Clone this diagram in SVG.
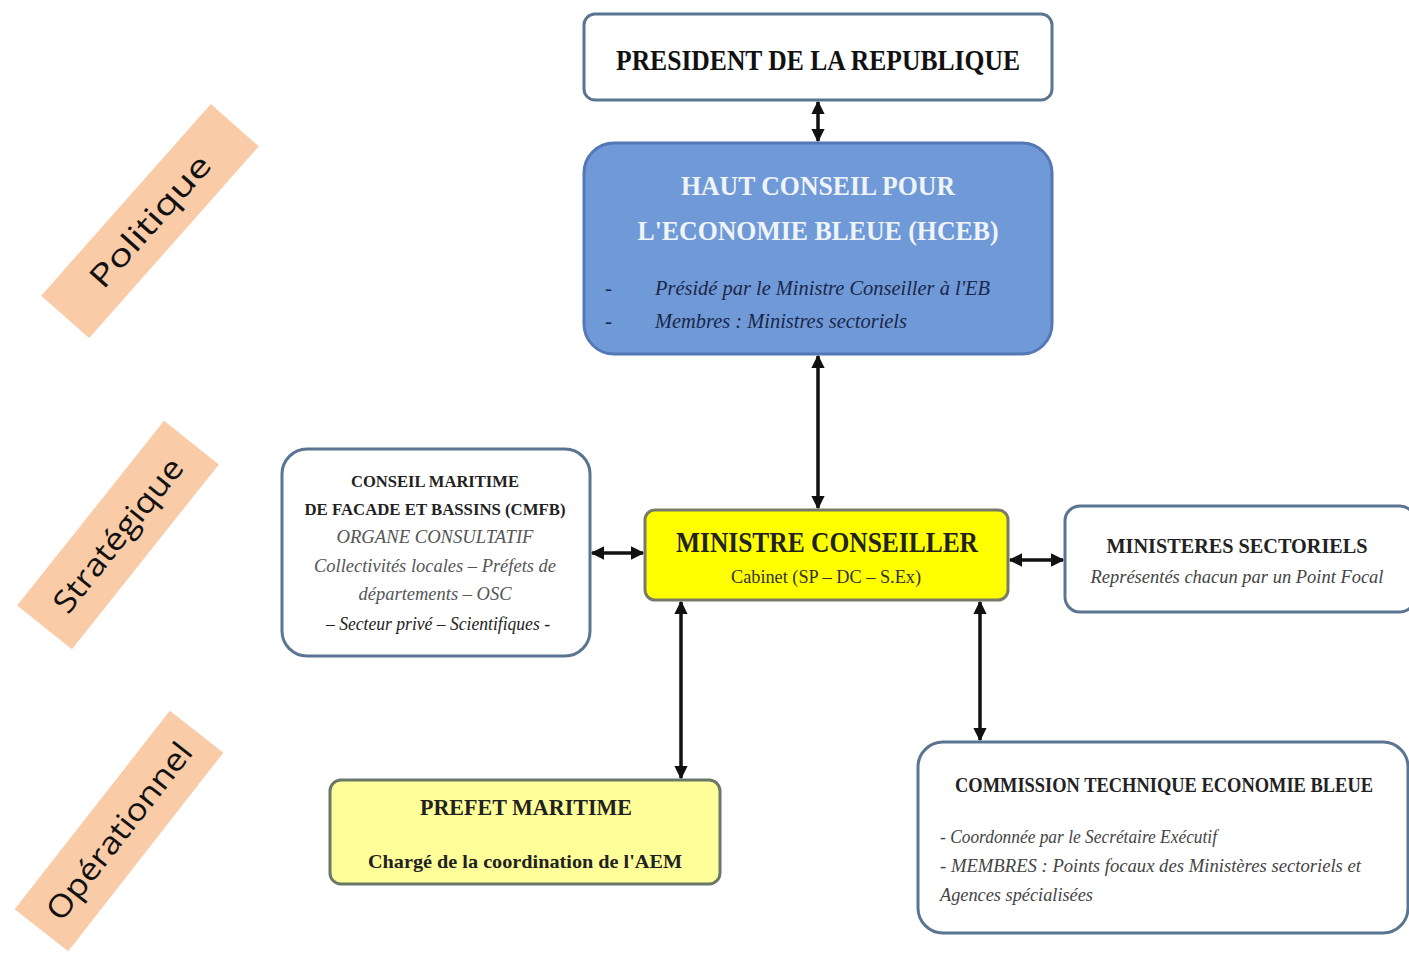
<svg xmlns="http://www.w3.org/2000/svg" width="1409" height="955" viewBox="0 0 1409 955">
<style>
.box{fill:#ffffff;stroke:#5a7590;stroke-width:3}
.serif{font-family:"Liberation Serif","Times New Roman",serif}
.b{font-weight:bold}
.i{font-style:italic}
.lbl{fill:#f9cba7}
.lt{font-family:"Open Sans","Noto Sans",sans-serif;font-size:31px;fill:#111}
.con{stroke:#111;stroke-width:3.5;fill:none}
</style>
<defs>
<marker id="ah" viewBox="0 0 10 10" refX="9" refY="5" markerWidth="3.8" markerHeight="3.8" orient="auto-start-reverse" markerUnits="strokeWidth">
<path d="M0,0 L10,5 L0,10 z" fill="#111"/>
</marker>
</defs>
<rect width="1409" height="955" fill="#ffffff"/>

<g id="label-politique" transform="translate(150,221) rotate(-48.5)">
<rect class="lbl" x="-128" y="-32" width="256" height="64"/>
<text class="lt" x="0" y="11" text-anchor="middle" textLength="166" lengthAdjust="spacingAndGlyphs">Politique</text>
</g>
<g id="label-strategique" transform="translate(118,535) rotate(-51.5)">
<rect class="lbl" x="-118" y="-35" width="236" height="70"/>
<text class="lt" x="0" y="11" text-anchor="middle" textLength="188" lengthAdjust="spacingAndGlyphs">Stratégique</text>
</g>
<g id="label-operationnel" transform="translate(119,831) rotate(-52)">
<rect class="lbl" x="-126" y="-34" width="252" height="68"/>
<text class="lt" x="0" y="11" text-anchor="middle" textLength="216" lengthAdjust="spacingAndGlyphs">Opérationnel</text>
</g>

<g id="connectors">
<line class="con" x1="818" y1="102" x2="818" y2="141" marker-start="url(#ah)" marker-end="url(#ah)"/>
<line class="con" x1="818" y1="356" x2="818" y2="508" marker-start="url(#ah)" marker-end="url(#ah)"/>
<line class="con" x1="592" y1="553" x2="643" y2="553" marker-start="url(#ah)" marker-end="url(#ah)"/>
<line class="con" x1="1010" y1="560" x2="1063" y2="560" marker-start="url(#ah)" marker-end="url(#ah)"/>
<line class="con" x1="681" y1="602" x2="681" y2="778" marker-start="url(#ah)" marker-end="url(#ah)"/>
<line class="con" x1="980" y1="602" x2="980" y2="740" marker-start="url(#ah)" marker-end="url(#ah)"/>
</g>

<g id="president">
<rect class="box" x="584" y="14" width="468" height="86" rx="11"/>
<text class="serif b" x="818" y="70" font-size="29" text-anchor="middle" fill="#111" textLength="404" lengthAdjust="spacingAndGlyphs">PRESIDENT DE LA REPUBLIQUE</text>
</g>

<g id="hceb">
<rect x="584" y="143" width="468" height="211" rx="30" fill="#7099d8" stroke="#5478b5" stroke-width="3"/>
<text class="serif b" x="818" y="195" font-size="27" text-anchor="middle" fill="#eef4f8" textLength="274" lengthAdjust="spacingAndGlyphs">HAUT CONSEIL POUR</text>
<text class="serif b" x="818" y="240" font-size="27" text-anchor="middle" fill="#eef4f8" textLength="361" lengthAdjust="spacingAndGlyphs">L'ECONOMIE BLEUE (HCEB)</text>
<text class="serif" x="605" y="295" font-size="21" fill="#1a2748">-</text>
<text class="serif i" x="655" y="295" font-size="21" fill="#1a2748" textLength="335" lengthAdjust="spacingAndGlyphs">Présidé par le Ministre Conseiller à l'EB</text>
<text class="serif" x="605" y="328" font-size="21" fill="#1a2748">-</text>
<text class="serif i" x="655" y="328" font-size="21" fill="#1a2748" textLength="252" lengthAdjust="spacingAndGlyphs">Membres : Ministres sectoriels</text>
</g>

<g id="ministre">
<rect x="645" y="510" width="363" height="90" rx="10" fill="#ffff00" stroke="#7a7a6a" stroke-width="3"/>
<text class="serif b" x="827" y="552" font-size="29" text-anchor="middle" fill="#222" textLength="302" lengthAdjust="spacingAndGlyphs">MINISTRE  CONSEILLER</text>
<text class="serif" x="826" y="583" font-size="18" text-anchor="middle" fill="#333" textLength="190" lengthAdjust="spacingAndGlyphs">Cabinet (SP – DC – S.Ex)</text>
</g>

<g id="cmfb">
<rect class="box" x="282" y="449" width="308" height="207" rx="25"/>
<text class="serif b" x="435" y="487" font-size="16" text-anchor="middle" fill="#222" textLength="168" lengthAdjust="spacingAndGlyphs">CONSEIL MARITIME</text>
<text class="serif b" x="435" y="515" font-size="16" text-anchor="middle" fill="#222" textLength="261" lengthAdjust="spacingAndGlyphs">DE FACADE ET BASSINS (CMFB)</text>
<text class="serif i" x="435" y="543" font-size="18" text-anchor="middle" fill="#555" textLength="197" lengthAdjust="spacingAndGlyphs">ORGANE CONSULTATIF</text>
<text class="serif i" x="435" y="572" font-size="18" text-anchor="middle" fill="#555" textLength="242" lengthAdjust="spacingAndGlyphs">Collectivités locales – Préfets de</text>
<text class="serif i" x="435" y="600" font-size="18" text-anchor="middle" fill="#555" textLength="153" lengthAdjust="spacingAndGlyphs">départements – OSC</text>
<text class="serif i" x="438" y="630" font-size="18" text-anchor="middle" fill="#222" textLength="224" lengthAdjust="spacingAndGlyphs">– Secteur privé – Scientifiques -</text>
</g>

<g id="ministeres">
<rect class="box" x="1065" y="506" width="350" height="106" rx="15"/>
<text class="serif b" x="1237" y="553" font-size="20" text-anchor="middle" fill="#222" textLength="261" lengthAdjust="spacingAndGlyphs">MINISTERES SECTORIELS</text>
<text class="serif i" x="1237" y="583" font-size="18" text-anchor="middle" fill="#444" textLength="293" lengthAdjust="spacingAndGlyphs">Représentés chacun par un Point Focal</text>
</g>

<g id="prefet">
<rect x="330" y="780" width="390" height="104" rx="11" fill="#ffff99" stroke="#6a786a" stroke-width="3"/>
<text class="serif b" x="526" y="815" font-size="24" text-anchor="middle" fill="#222" textLength="212" lengthAdjust="spacingAndGlyphs">PREFET MARITIME</text>
<text class="serif b" x="525" y="868" font-size="19" text-anchor="middle" fill="#222" textLength="314" lengthAdjust="spacingAndGlyphs">Chargé de la coordination de l'AEM</text>
</g>

<g id="commission">
<rect class="box" x="918" y="742" width="490" height="191" rx="25"/>
<text class="serif b" x="1164" y="792" font-size="20" text-anchor="middle" fill="#222" textLength="418" lengthAdjust="spacingAndGlyphs">COMMISSION TECHNIQUE ECONOMIE BLEUE</text>
<text class="serif i" x="940" y="843" font-size="18" fill="#444" textLength="277" lengthAdjust="spacingAndGlyphs">- Coordonnée par le Secrétaire Exécutif</text>
<text class="serif i" x="940" y="872" font-size="18" fill="#444" textLength="421" lengthAdjust="spacingAndGlyphs">- MEMBRES : Points focaux des Ministères sectoriels et</text>
<text class="serif i" x="940" y="901" font-size="18" fill="#444" textLength="153" lengthAdjust="spacingAndGlyphs">Agences spécialisées</text>
</g>
</svg>
